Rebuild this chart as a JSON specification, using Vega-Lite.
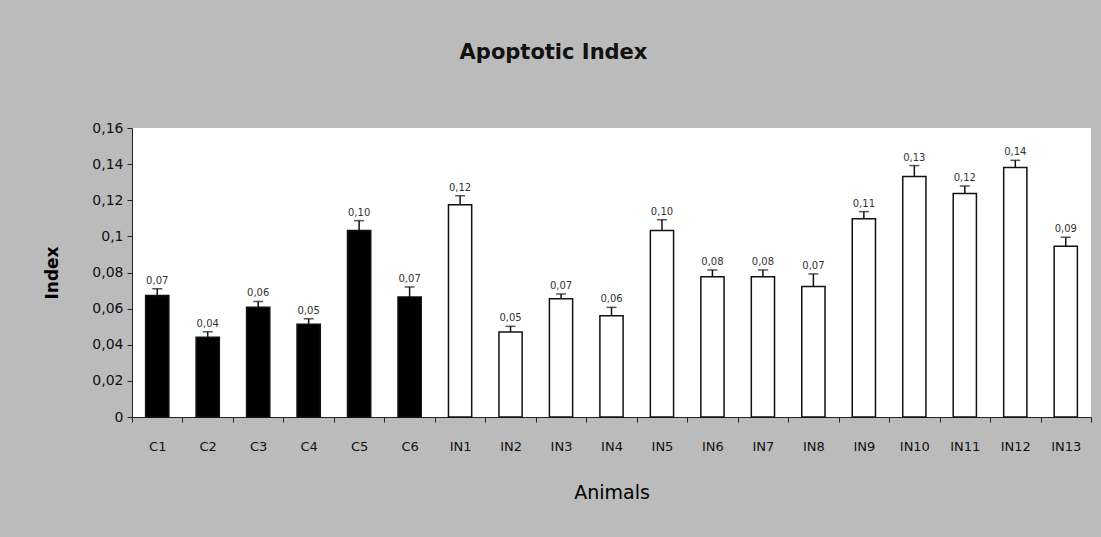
{
  "$schema": "https://vega.github.io/schema/vega-lite/v6.json",
  "width": 959,
  "height": 289,
  "autosize": "none",
  "padding": {"left": 132, "top": 128, "right": 10, "bottom": 120},
  "background": "#bbbbbb",
  "config": {
    "view": {"fill": "white", "stroke": null},
    "font": "DejaVu Sans",
    "axis": {"domainColor": "#222222", "tickColor": "#222222", "labelColor": "#111111", "titleColor": "#000000", "grid": false}
  },
  "title": {"text": "Apoptotic Index", "fontSize": 21, "fontWeight": "bold", "color": "#111111", "anchor": "middle", "dx": -58, "offset": 58, "font": "DejaVu Sans"},
  "data": {"values": [
    {"animal": "C1", "group": "C", "value": 0.0673, "upper": 0.0710, "label": "0,07"},
    {"animal": "C2", "group": "C", "value": 0.0441, "upper": 0.0472, "label": "0,04"},
    {"animal": "C3", "group": "C", "value": 0.0607, "upper": 0.0640, "label": "0,06"},
    {"animal": "C4", "group": "C", "value": 0.0513, "upper": 0.0544, "label": "0,05"},
    {"animal": "C5", "group": "C", "value": 0.1033, "upper": 0.1087, "label": "0,10"},
    {"animal": "C6", "group": "C", "value": 0.0664, "upper": 0.0720, "label": "0,07"},
    {"animal": "IN1", "group": "IN", "value": 0.1175, "upper": 0.1225, "label": "0,12"},
    {"animal": "IN2", "group": "IN", "value": 0.0471, "upper": 0.0502, "label": "0,05"},
    {"animal": "IN3", "group": "IN", "value": 0.0655, "upper": 0.0681, "label": "0,07"},
    {"animal": "IN4", "group": "IN", "value": 0.0561, "upper": 0.0607, "label": "0,06"},
    {"animal": "IN5", "group": "IN", "value": 0.1032, "upper": 0.1092, "label": "0,10"},
    {"animal": "IN6", "group": "IN", "value": 0.0777, "upper": 0.0814, "label": "0,08"},
    {"animal": "IN7", "group": "IN", "value": 0.0777, "upper": 0.0814, "label": "0,08"},
    {"animal": "IN8", "group": "IN", "value": 0.0722, "upper": 0.0792, "label": "0,07"},
    {"animal": "IN9", "group": "IN", "value": 0.1098, "upper": 0.1137, "label": "0,11"},
    {"animal": "IN10", "group": "IN", "value": 0.1331, "upper": 0.1392, "label": "0,13"},
    {"animal": "IN11", "group": "IN", "value": 0.1237, "upper": 0.1279, "label": "0,12"},
    {"animal": "IN12", "group": "IN", "value": 0.1381, "upper": 0.1421, "label": "0,14"},
    {"animal": "IN13", "group": "IN", "value": 0.0945, "upper": 0.0995, "label": "0,09"}
  ]},
  "encoding": {
    "x": {
      "field": "animal", "type": "nominal", "sort": null,
      "scale": {"paddingInner": 0, "paddingOuter": 0},
      "axis": {"title": "Animals", "labelAngle": 0, "tickBand": "extent", "tickSize": 5, "labelPadding": 18, "labelFontSize": 13, "titleFontSize": 19, "titleFontWeight": "normal", "titlePadding": 30}
    }
  },
  "layer": [
    {
      "mark": {"type": "bar", "stroke": "#111111", "strokeWidth": 1.5, "width": {"band": 0.46}},
      "encoding": {
        "y": {
          "field": "value", "type": "quantitative",
          "scale": {"domain": [0, 0.16]},
          "axis": {"title": "Index", "values": [0, 0.02, 0.04, 0.06, 0.08, 0.1, 0.12, 0.14, 0.16], "labelExpr": "replace(format(datum.value, '.2~f'), '.', ',')", "tickSize": 5, "labelFontSize": 14, "labelPadding": 4, "labelOverlap": false, "titleFontSize": 17, "titleFontWeight": "bold", "titlePadding": 30}
        },
        "fill": {"field": "group", "type": "nominal", "scale": {"domain": ["C", "IN"], "range": ["#000000", "#ffffff"]}, "legend": null}
      }
    },
    {
      "mark": {"type": "rule", "color": "#111111", "strokeWidth": 1.5},
      "encoding": {
        "y": {"field": "value", "type": "quantitative",
          "axis": {"title": "Index", "values": [0, 0.02, 0.04, 0.06, 0.08, 0.1, 0.12, 0.14, 0.16], "labelExpr": "replace(format(datum.value, '.2~f'), '.', ',')", "tickSize": 5, "labelFontSize": 14, "labelPadding": 4, "labelOverlap": false, "titleFontSize": 17, "titleFontWeight": "bold", "titlePadding": 30}},
        "y2": {"field": "upper"}
      }
    },
    {
      "mark": {"type": "tick", "color": "#111111", "thickness": 1.5, "size": 10},
      "encoding": {
        "y": {"field": "upper", "type": "quantitative",
          "axis": {"title": "Index", "values": [0, 0.02, 0.04, 0.06, 0.08, 0.1, 0.12, 0.14, 0.16], "labelExpr": "replace(format(datum.value, '.2~f'), '.', ',')", "tickSize": 5, "labelFontSize": 14, "labelPadding": 4, "labelOverlap": false, "titleFontSize": 17, "titleFontWeight": "bold", "titlePadding": 30}}
      }
    },
    {
      "mark": {"type": "text", "baseline": "bottom", "dy": -3, "fontSize": 10, "color": "#333333"},
      "encoding": {
        "y": {"field": "upper", "type": "quantitative",
          "axis": {"title": "Index", "values": [0, 0.02, 0.04, 0.06, 0.08, 0.1, 0.12, 0.14, 0.16], "labelExpr": "replace(format(datum.value, '.2~f'), '.', ',')", "tickSize": 5, "labelFontSize": 14, "labelPadding": 4, "labelOverlap": false, "titleFontSize": 17, "titleFontWeight": "bold", "titlePadding": 30}},
        "text": {"field": "label", "type": "nominal"}
      }
    }
  ]
}
